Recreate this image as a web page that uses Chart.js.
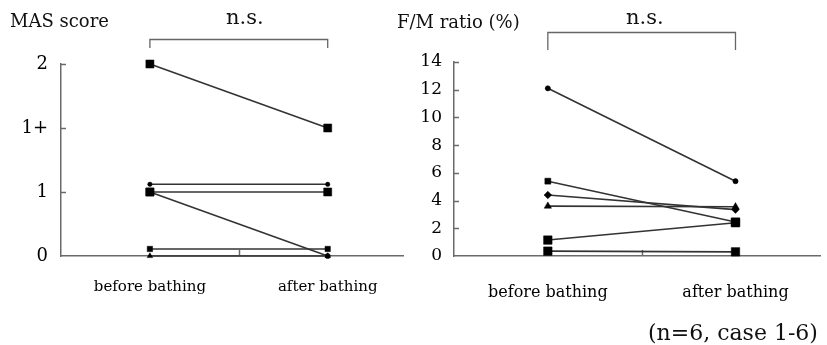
<!DOCTYPE html>
<html>
<head>
<meta charset="utf-8">
<script src="https://cdn.jsdelivr.net/npm/chart.js@4.4.1/dist/chart.umd.min.js"></script>
<style>
  html, body { margin: 0; padding: 0; background: #fff; }
  body { width: 827px; height: 345px; overflow: hidden; position: relative; font-family: "DejaVu Serif", serif; color: #111; }
  canvas { position: absolute; top: 0; }
  #c1 { left: 0; }
  #c2 { left: 400px; }
  .t { position: absolute; white-space: nowrap; line-height: 1; }
</style>
</head>
<body>
<canvas id="c1" width="410" height="345"></canvas>
<canvas id="c2" width="427" height="345"></canvas>
<div class="t" style="left:10px; top:12px; font-size:18px;">MAS score</div>
<div class="t" style="left:226px; top:7px; font-size:21px;">n.s.</div>
<div class="t" style="left:397px; top:13px; font-size:18px;">F/M ratio (%)</div>
<div class="t" style="left:626px; top:7px; font-size:21px;">n.s.</div>
<div class="t" style="left:648px; top:322px; font-size:22px;">(n=6, case 1-6)</div>
<script>
// ---- data ----
const categories = ['before bathing', 'after bathing'];
const masTickLabels = ['0', '1', '1+', '2'];
// MAS score per case (1+ plotted as 2, 2 plotted as 3; small offsets as drawn)
const masCase1 = [3, 2];
const masCase2 = [1.12, 1.12];
const masCase3 = [1, 1];
const masCase4 = [1, 0];
const masCase5 = [0.11, 0.11];
const masCase6 = [0, 0];
// F/M ratio (%) per case
const fmCase1 = [12.1, 5.4];
const fmCase2 = [5.4, 2.45];
const fmCase3 = [4.4, 3.35];
const fmCase4 = [3.6, 3.55];
const fmCase5 = [1.15, 2.4];
const fmCase6 = [0.35, 0.3];
const fmTicks = [0, 2, 4, 6, 8, 10, 12, 14];

// ---- styling ----
const AXIS = '#6a6a6a';
const LINE = '#333';
const MARK = '#000';
const FONT = '"DejaVu Serif", serif';

function pts(arr) { return arr.map((v, i) => ({ x: i, y: v })); }
function ds(arr, style, radius) {
  return {
    data: pts(arr), borderColor: LINE, borderWidth: 1.6,
    pointStyle: style, pointRadius: radius, pointBackgroundColor: MARK,
    pointBorderColor: MARK, pointBorderWidth: 0.5, clip: false, tension: 0
  };
}

const decor = {
  id: 'decor',
  beforeDatasetsDraw(chart, args, opts) {
    const ctx = chart.ctx, xs = chart.scales.x, ys = chart.scales.y;
    ctx.save();
    ctx.strokeStyle = AXIS; ctx.lineWidth = 1.5;
    ys.ticks.forEach(t => {
      if (t.value === ys.min) return;
      const py = Math.round(ys.getPixelForValue(t.value)) + 0.5;
      ctx.beginPath(); ctx.moveTo(xs.left, py); ctx.lineTo(xs.left + 5, py); ctx.stroke();
    });
    const mx = Math.round(xs.getPixelForValue(0.5)) + 0.5;
    ctx.beginPath(); ctx.moveTo(mx, ys.bottom); ctx.lineTo(mx, ys.bottom - 6); ctx.stroke();
    // significance bracket
    const b0 = xs.getPixelForValue(0), b1 = xs.getPixelForValue(1);
    ctx.strokeStyle = '#666'; ctx.lineWidth = 1.3;
    ctx.beginPath();
    ctx.moveTo(b0, opts.bracketBottom); ctx.lineTo(b0, opts.bracketTop);
    ctx.lineTo(b1, opts.bracketTop); ctx.lineTo(b1, opts.bracketBottom);
    ctx.stroke();
    ctx.restore();
  }
};

function makeChart(id, datasets, yOpts, xMax, yWidth, padTop, xPad, xFont, bracket) {
  return new Chart(document.getElementById(id), {
    type: 'line',
    data: { datasets },
    plugins: [decor],
    options: {
      responsive: false, animation: false, devicePixelRatio: 1,
      layout: { padding: { top: padTop, right: 0, left: 0, bottom: 0 } },
      plugins: { legend: { display: false }, tooltip: { enabled: false }, decor: bracket },
      scales: {
        x: {
          type: 'linear', min: -0.5, max: xMax,
          afterBuildTicks: s => { s.ticks = categories.map((c, i) => ({ value: i })); },
          afterFit: s => { s.height = 89; },
          ticks: { callback: v => categories[v], font: { family: FONT, size: xFont }, color: '#000', padding: xPad, maxRotation: 0, autoSkip: false },
          grid: { display: false, drawTicks: false },
          border: { display: true, color: AXIS, width: 1.5 }
        },
        y: Object.assign({
          afterFit: s => { s.width = yWidth; },
          grid: { display: false, drawTicks: false },
          border: { display: true, color: AXIS, width: 1.5 }
        }, yOpts)
      }
    }
  });
}

makeChart('c1', [
  ds(masCase1, 'rect', 5.7),
  ds(masCase2, 'circle', 2.2),
  ds(masCase3, 'rect', 5.7),
  Object.assign(ds(masCase4, 'rect', 5.7), { pointStyle: ['rect', 'circle'], pointRadius: [5.7, 2.6] }),
  ds(masCase5, 'rect', 3.8),
  ds(masCase6, 'triangle', 3.2)
], {
  min: 0, max: 3,
  afterBuildTicks: s => { s.ticks = masTickLabels.map((l, i) => ({ value: i })); },
  ticks: { callback: v => masTickLabels[v], font: { family: FONT, size: 18 }, color: '#000', padding: 13 }
}, 1.428, 61, 64, 22, 15, { bracketTop: 39.5, bracketBottom: 48 });

makeChart('c2', [
  ds(fmCase1, 'circle', 2.6),
  Object.assign(ds(fmCase2, 'rect', 4.2), { pointRadius: [4.2, 6] }),
  ds(fmCase3, 'rectRot', 3.8),
  ds(fmCase4, 'triangle', 4.2),
  ds(fmCase5, 'rect', 6),
  ds(fmCase6, 'rect', 6)
], {
  min: 0, max: 14,
  afterBuildTicks: s => { s.ticks = fmTicks.map(v => ({ value: v })); },
  ticks: { callback: v => String(v), font: { family: FONT, size: 17 }, color: '#000', padding: 12 }
}, 1.453, 54, 62, 27, 16, { bracketTop: 32.5, bracketBottom: 50 });
</script>
</body>
</html>
